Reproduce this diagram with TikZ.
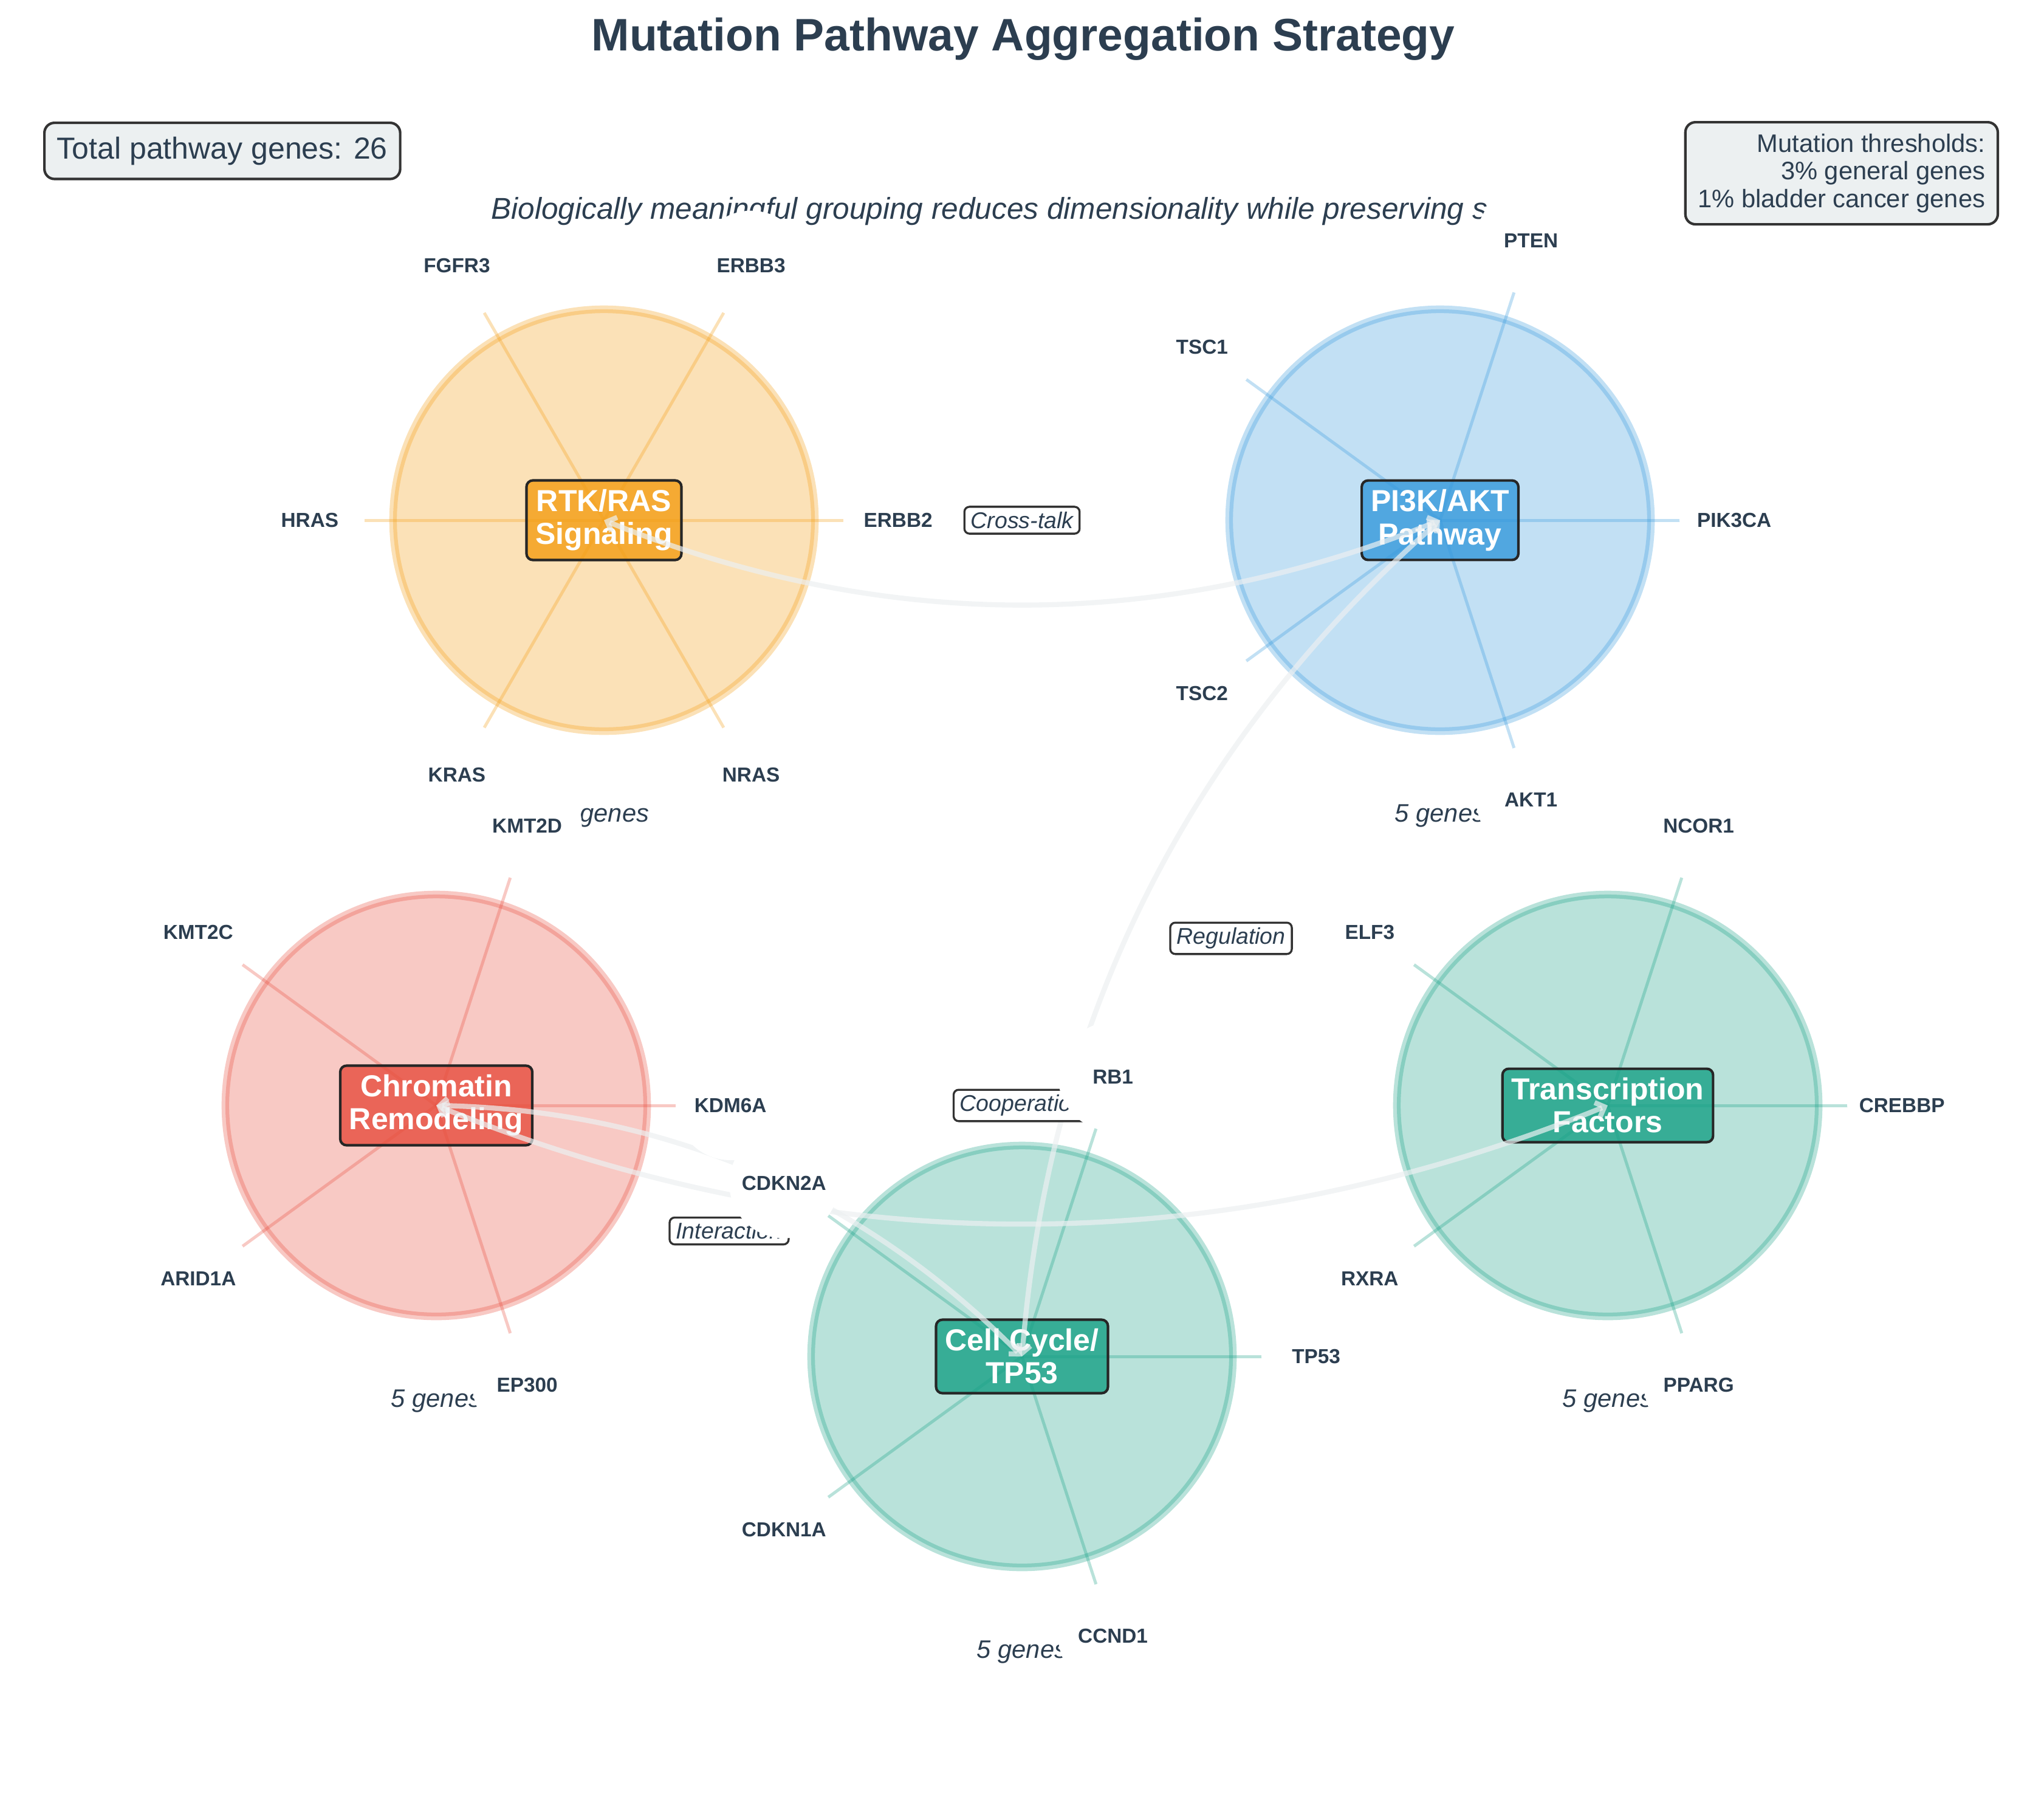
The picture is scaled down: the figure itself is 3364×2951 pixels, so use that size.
\documentclass[tikz,border=0pt]{standalone}
\usepackage{fontspec}
\setmainfont{Liberation Sans}
\usepackage{tikz}
\usetikzlibrary{calc, positioning, arrows.meta}
\definecolor{rtkorange}{HTML}{F39C12}
\definecolor{pikblue}{HTML}{3498DB}
\definecolor{chromred}{HTML}{E74C3C}
\definecolor{cellteal}{HTML}{16A085}
\definecolor{ink}{HTML}{2C3E50}
\definecolor{cloud}{HTML}{ECF0F1}
\newcommand\pathwaydisk[2]{\filldraw[fill=#2, draw=#2, fill opacity=0.3, draw opacity=0.3, line width=3pt] (#1) circle (83.3pt);}
\newcommand\genespoke[3]{\coordinate (#1-#2) at ($(#1)+(#2:95.8pt)$);\draw[#3, draw opacity=0.3, line width=1.2pt] (#1) -- (#1-#2);}
\newcommand\genelabel[4]{\node[genedot] (#3) at ($(#1)+(#2:116.2pt)$) {#4};}

\begin{document}
\begin{tikzpicture}[x=0.24pt, y=-0.24pt,
  hubbox/.style={rounded corners=2.5pt, draw=black!85, line width=1pt, fill opacity=0.8, text opacity=1, text=white, align=center, inner xsep=3.6pt, inner ysep=3.6pt, font=\fontsize{12}{13}\selectfont\bfseries},
  linkarrow/.style={draw=cloud, draw opacity=0.7, line width=2pt, bend right=22, looseness=0.92, {Straight Barb[length=3pt,width=6pt]}-{Straight Barb[length=3pt,width=6pt]}},
  linktag/.style={fill=white, draw=black!80, line width=0.8pt, rounded corners=2pt, inner xsep=2.5pt, inner ysep=2pt, text=ink, font=\fontsize{9}{10}\selectfont\itshape},
  genedot/.style={circle, fill=white, minimum size=43.2pt, inner sep=0pt, text=ink, font=\fontsize{8}{9.6}\selectfont\bfseries},
  countlabel/.style={text=ink, font=\fontsize{10}{12}\selectfont\itshape},
  infobox/.style={fill=cloud, draw=black!80, line width=1pt, rounded corners=4pt, text=ink}]
\useasboundingbox (0,0) rectangle (3364,2951);

% pathway centres
\coordinate (rtk) at (994,856);
\coordinate (pik) at (2370,856);
\coordinate (chrom) at (718,1819);
\coordinate (cell) at (1682,2232);
\coordinate (tf) at (2646,1819);

% RTK/RAS
\pathwaydisk{rtk}{rtkorange}
\genespoke{rtk}{0}{rtkorange}
\genespoke{rtk}{60}{rtkorange}
\genespoke{rtk}{120}{rtkorange}
\genespoke{rtk}{180}{rtkorange}
\genespoke{rtk}{240}{rtkorange}
\genespoke{rtk}{300}{rtkorange}

% PI3K/AKT
\pathwaydisk{pik}{pikblue}
\genespoke{pik}{0}{pikblue}
\genespoke{pik}{72}{pikblue}
\genespoke{pik}{144}{pikblue}
\genespoke{pik}{216}{pikblue}
\genespoke{pik}{288}{pikblue}

% chromatin
\pathwaydisk{chrom}{chromred}
\genespoke{chrom}{0}{chromred}
\genespoke{chrom}{72}{chromred}
\genespoke{chrom}{144}{chromred}
\genespoke{chrom}{216}{chromred}
\genespoke{chrom}{288}{chromred}

% cell cycle
\pathwaydisk{cell}{cellteal}
\genespoke{cell}{0}{cellteal}
\genespoke{cell}{72}{cellteal}
\genespoke{cell}{144}{cellteal}
\genespoke{cell}{216}{cellteal}
\genespoke{cell}{288}{cellteal}

% transcription factors
\pathwaydisk{tf}{cellteal}
\genespoke{tf}{0}{cellteal}
\genespoke{tf}{72}{cellteal}
\genespoke{tf}{144}{cellteal}
\genespoke{tf}{216}{cellteal}
\genespoke{tf}{288}{cellteal}

\node[hubbox, fill=rtkorange] (rtkhub) at (rtk) {RTK/RAS\\Signaling};
\node[hubbox, fill=pikblue] (pikhub) at (pik) {PI3K/AKT\\Pathway};
\node[hubbox, fill=chromred] (chromhub) at (chrom) {Chromatin\\Remodeling};
\node[hubbox, fill=cellteal] (cellhub) at (cell) {Cell Cycle/\\TP53};
\node[hubbox, fill=cellteal] (tfhub) at (tf) {Transcription\\Factors};

% links
\draw[linkarrow] (rtk) to (pik);
\draw[linkarrow] (pik) to (cell);
\draw[linkarrow] (chrom) to (tf);
\draw[linkarrow] (cell) to (chrom);
\path (rtk) -- node[linktag] (crosstalk) {Cross-talk} (pik);
\path (pik) -- node[linktag] (regulation) {Regulation} (cell);
\path (chrom) -- node[linktag] (cooperation) {Cooperation} (tf);
\path (cell) -- node[linktag] (interaction) {Interaction} (chrom);

\node[countlabel] (rtkcount) at ($(rtk)+(0,486)$) {6 genes};
\node[countlabel] (pikcount) at ($(pik)+(0,486)$) {5 genes};
\node[countlabel] (chromcount) at ($(chrom)+(0,486)$) {5 genes};
\node[countlabel] (cellcount) at ($(cell)+(0,486)$) {5 genes};
\node[countlabel] (tfcount) at ($(tf)+(0,486)$) {5 genes};

% subtitle sits under the gene labels
\node[anchor=base east, text=ink, font=\fontsize{11.9}{14}\selectfont\itshape] (subtitle) at (2463,360) {Biologically meaningful grouping reduces dimensionality while preserving s};

\genelabel{rtk}{0}{erbb2}{ERBB2}
\genelabel{rtk}{60}{erbb3}{ERBB3}
\genelabel{rtk}{120}{fgfr3}{FGFR3}
\genelabel{rtk}{180}{hras}{HRAS}
\genelabel{rtk}{240}{kras}{KRAS}
\genelabel{rtk}{300}{nras}{NRAS}
\genelabel{pik}{0}{pik3ca}{PIK3CA}
\genelabel{pik}{72}{pten}{PTEN}
\genelabel{pik}{144}{tsc1}{TSC1}
\genelabel{pik}{216}{tsc2}{TSC2}
\genelabel{pik}{288}{akt1}{AKT1}
\genelabel{chrom}{0}{kdm6a}{KDM6A}
\genelabel{chrom}{72}{kmt2d}{KMT2D}
\genelabel{chrom}{144}{kmt2c}{KMT2C}
\genelabel{chrom}{216}{arid1a}{ARID1A}
\genelabel{chrom}{288}{ep300}{EP300}
\genelabel{cell}{0}{tp53}{TP53}
\genelabel{cell}{72}{rb1}{RB1}
\genelabel{cell}{144}{cdkn2a}{CDKN2A}
\genelabel{cell}{216}{cdkn1a}{CDKN1A}
\genelabel{cell}{288}{ccnd1}{CCND1}
\genelabel{tf}{0}{crebbp}{CREBBP}
\genelabel{tf}{72}{ncor1}{NCOR1}
\genelabel{tf}{144}{elf3}{ELF3}
\genelabel{tf}{216}{rxra}{RXRA}
\genelabel{tf}{288}{pparg}{PPARG}

% titles and boxes
\node[anchor=base, text=ink, font=\fontsize{18}{22}\selectfont\bfseries] (title) at (1684,83) {Mutation Pathway Aggregation Strategy};
\node[infobox, anchor=north west, inner xsep=5pt, inner ysep=5.5pt, font=\fontsize{12}{14}\selectfont] (total) at (71,200) {Total pathway genes: 26};
\node[infobox, anchor=north east, align=right, inner xsep=5pt, inner ysep=4.5pt, font=\fontsize{10}{11}\selectfont] (thresholds) at (3290,199) {Mutation thresholds:\\3\% general genes\\1\% bladder cancer genes};
\end{tikzpicture}
\end{document}
